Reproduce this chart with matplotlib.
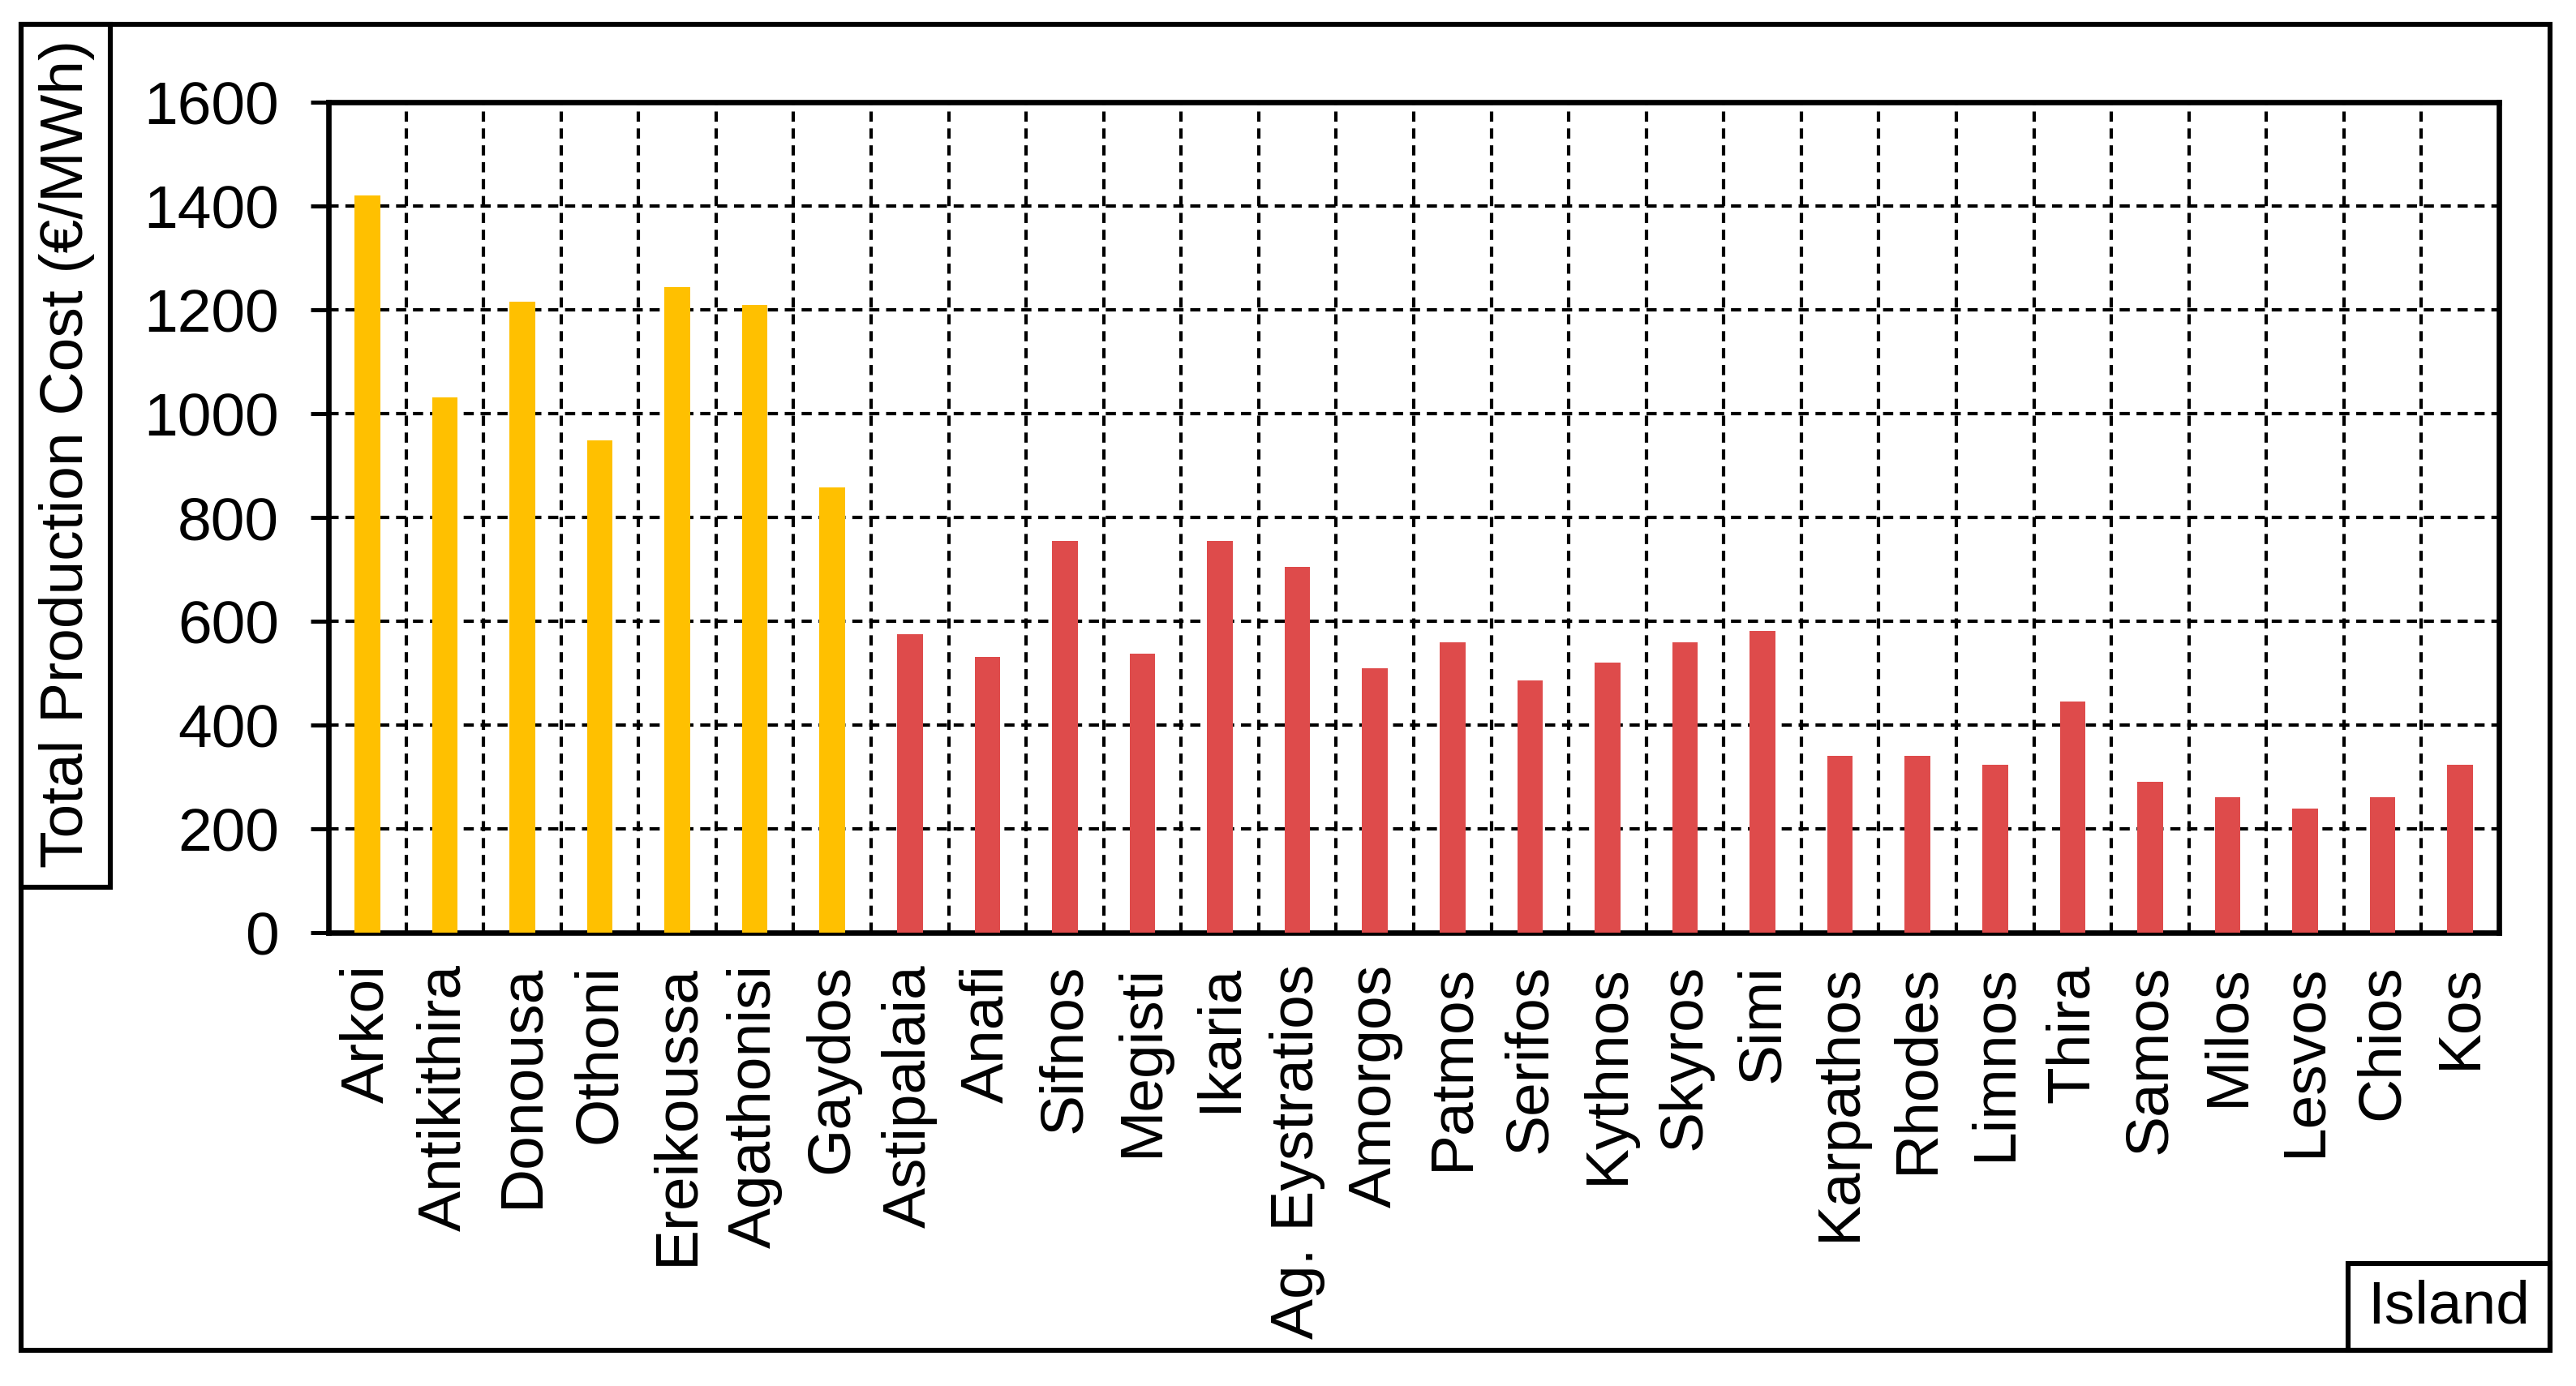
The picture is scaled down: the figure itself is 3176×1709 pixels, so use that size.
import matplotlib.pyplot as plt
from matplotlib.patches import Rectangle

plt.rcParams['font.family'] = ['Liberation Sans', 'DejaVu Sans']

islands = ['Arkoi', 'Antikithira', 'Donousa', 'Othoni', 'Ereikoussa', 'Agathonisi', 'Gaydos',
           'Astipalaia', 'Anafi', 'Sifnos', 'Megisti', 'Ikaria', 'Ag. Eystratios', 'Amorgos',
           'Patmos', 'Serifos', 'Kythnos', 'Skyros', 'Simi', 'Karpathos', 'Rhodes', 'Limnos',
           'Thira', 'Samos', 'Milos', 'Lesvos', 'Chios', 'Kos']
cost = [1420, 1031, 1215, 948, 1243, 1209, 858,
        575, 532, 754, 537, 754, 704, 509,
        560, 486, 521, 560, 582, 340, 340, 323,
        446, 290, 261, 239, 261, 323]
# first 7 islands in yellow, the rest in red
group = ['y'] * 7 + ['r'] * 21
col_map = {'y': '#FFC000', 'r': '#DE4B4B'}

W, H = 3176, 1709
fig = plt.figure(figsize=(W / 200, H / 200), dpi=200)
fs = 27

def fx(px):
    return px / W

def fy(py):
    return 1 - py / H

ax = fig.add_axes([fx(405), fy(1150), fx(3081) - fx(405), fy(126) - fy(1150)])

x = list(range(len(islands)))
ax.bar(x, cost, width=0.33, color=[col_map[g] for g in group], zorder=3)

ax.set_xlim(-0.5, len(islands) - 0.5)
ax.set_ylim(0, 1600)
ax.set_yticks(range(0, 1601, 200))
ax.set_xticks(x)
ax.set_xticklabels(islands, rotation=90, fontsize=fs)
ax.set_xticks([i + 0.5 for i in x[:-1]], minor=True)

ax.tick_params(axis='y', labelsize=fs, length=8, width=1.8, direction='out', pad=14)
ax.tick_params(axis='x', which='both', length=0, pad=14)

ax.grid(axis='y', which='major', color='black', linestyle=(0, (3, 2)), linewidth=1.5, zorder=0)
ax.grid(axis='x', which='minor', color='black', linestyle=(0, (3, 2)), linewidth=1.5, zorder=0)
ax.grid(axis='x', which='major', visible=False)

for s in ax.spines.values():
    s.set_linewidth(2.4)
    s.set_color('black')

# outer frame
fig.patches.append(Rectangle((fx(26), fy(1665)), fx(3144) - fx(26), fy(30) - fy(1665),
                             transform=fig.transFigure, fill=False, edgecolor='black', linewidth=2.2))
# y label box
fig.patches.append(Rectangle((fx(26), fy(1094)), fx(136) - fx(26), fy(30) - fy(1094),
                             transform=fig.transFigure, fill=False, edgecolor='black', linewidth=2.2))
fig.text(fx(83), fy(560), 'Total Production Cost (€/MWh)', rotation=90, fontsize=fs,
         ha='center', va='center')
# x label box
fig.patches.append(Rectangle((fx(2895), fy(1665)), fx(3144) - fx(2895), fy(1558) - fy(1665),
                             transform=fig.transFigure, fill=False, edgecolor='black', linewidth=2.2))
fig.text(fx(3019), fy(1612), 'Island', fontsize=fs, ha='center', va='center')

fig.savefig('out.png', dpi=200, facecolor='white')
